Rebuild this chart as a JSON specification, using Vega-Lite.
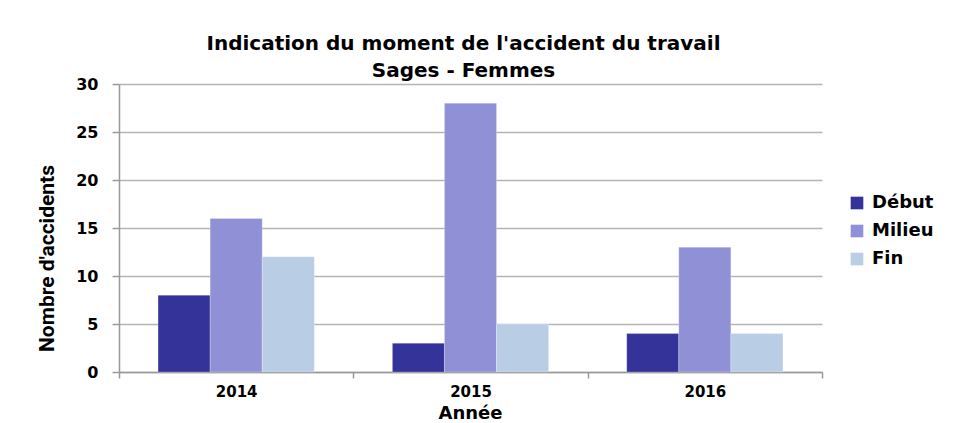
{
  "$schema": "https://vega.github.io/schema/vega-lite/v6.json",
  "autosize": "none",
  "padding": {"left": 119, "top": 84, "right": 153, "bottom": 51},
  "width": 703,
  "height": 288,
  "background": "white",
  "title": {
    "text": ["Indication du moment de l'accident du travail", "Sages - Femmes"],
    "font": "DejaVu Sans",
    "fontWeight": "bold",
    "fontSize": 20,
    "lineHeight": 27,
    "color": "#000000",
    "anchor": "middle",
    "dx": -7,
    "offset": -5
  },
  "data": {
    "values": [
      {"annee": "2014", "moment": "Début", "n": 8},
      {"annee": "2014", "moment": "Milieu", "n": 16},
      {"annee": "2014", "moment": "Fin", "n": 12},
      {"annee": "2015", "moment": "Début", "n": 3},
      {"annee": "2015", "moment": "Milieu", "n": 28},
      {"annee": "2015", "moment": "Fin", "n": 5},
      {"annee": "2016", "moment": "Début", "n": 4},
      {"annee": "2016", "moment": "Milieu", "n": 13},
      {"annee": "2016", "moment": "Fin", "n": 4}
    ]
  },
  "mark": {"type": "bar", "stroke": "#ffffff", "strokeOpacity": 0.25, "strokeWidth": 1},
  "encoding": {
    "x": {
      "field": "annee",
      "type": "nominal",
      "scale": {"paddingInner": 0, "paddingOuter": 0},
      "axis": {
        "title": "Année",
        "labelAngle": 0,
        "tickBand": "extent",
        "tickSize": 6,
        "tickColor": "#999999",
        "tickWidth": 1.5,
        "domainColor": "#999999",
        "domainWidth": 1.5,
        "labelFont": "DejaVu Sans",
        "labelFontWeight": "bold",
        "labelFontSize": 15,
        "labelColor": "#000000",
        "labelPadding": 6,
        "titleFont": "DejaVu Sans",
        "titleFontWeight": "bold",
        "titleFontSize": 18,
        "titleColor": "#000000",
        "titleBaseline": "alphabetic",
        "titleY": 46,
        "titleX": 351
      }
    },
    "xOffset": {"field": "moment", "type": "nominal", "sort": ["Début", "Milieu", "Fin"], "scale": {"paddingInner": 0, "paddingOuter": 0.75}},
    "y": {
      "field": "n",
      "type": "quantitative",
      "scale": {"domain": [0, 30]},
      "axis": {
        "title": "Nombre d'accidents",
        "values": [0, 5, 10, 15, 20, 25, 30],
        "grid": true,
        "gridColor": "#b4b4b4",
        "gridWidth": 1.5,
        "tickSize": 7,
        "tickColor": "#999999",
        "tickWidth": 1.5,
        "domainColor": "#999999",
        "domainWidth": 1.5,
        "labelFont": "DejaVu Sans",
        "labelFontWeight": "bold",
        "labelFontSize": 16,
        "labelColor": "#000000",
        "labelPadding": 14,
        "titleFont": "Roboto",
        "titleFontWeight": "bold",
        "titleFontSize": 21,
        "titleColor": "#000000",
        "titleAngle": -90,
        "titleAlign": "center",
        "titleBaseline": "middle",
        "titleX": -72,
        "titleY": 174
      }
    },
    "color": {
      "field": "moment",
      "type": "nominal",
      "sort": ["Début", "Milieu", "Fin"],
      "scale": {"domain": ["Début", "Milieu", "Fin"], "range": ["#333399", "#9090d6", "#b9cde5"]},
      "legend": {
        "title": null,
        "orient": "none",
        "legendX": 729,
        "legendY": 110,
        "symbolType": "square",
        "symbolSize": 160,
        "symbolStrokeWidth": 0,
        "labelFont": "DejaVu Sans",
        "labelFontWeight": "bold",
        "labelFontSize": 18,
        "labelColor": "#000000",
        "labelOffset": 6,
        "rowPadding": 10
      }
    }
  },
  "config": {
    "view": {"stroke": null}
  }
}
